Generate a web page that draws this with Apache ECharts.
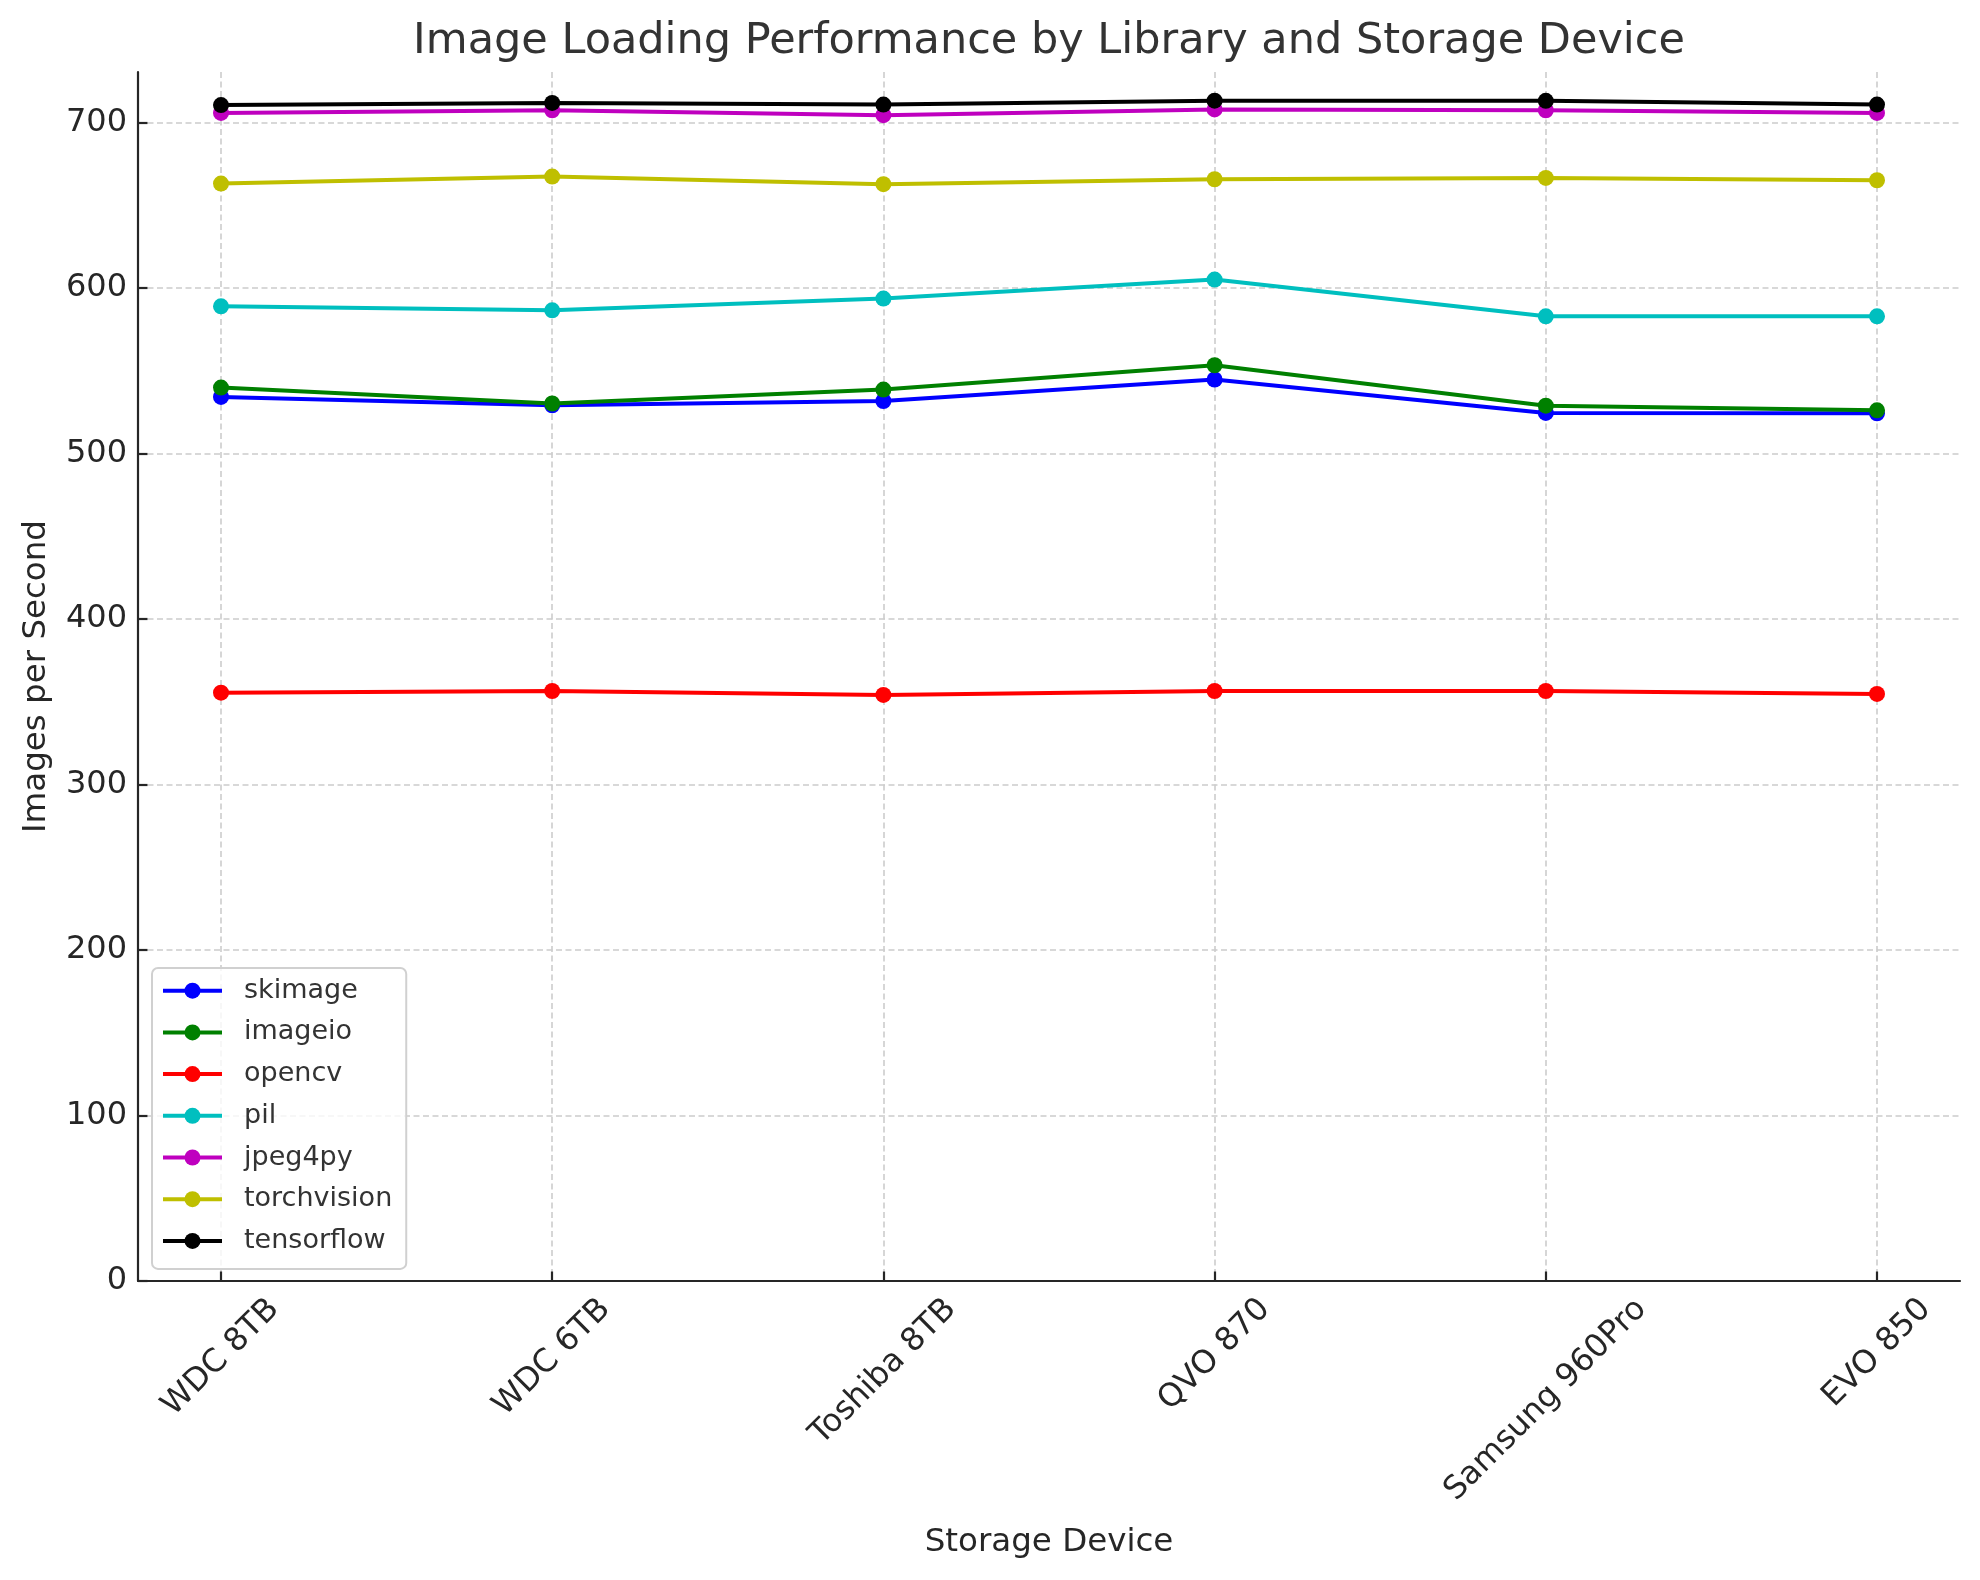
<!DOCTYPE html>
<html>
<head>
<meta charset="utf-8">
<script src="https://cdn.jsdelivr.net/npm/echarts/dist/echarts.min.js"></script>
<style>
  html, body { margin: 0; padding: 0; background: #ffffff; }
  #chart { width: 1980px; height: 1580px; }
</style>
</head>
<body>
<div id="chart"></div>
<script>
// ---------- data ----------
const categories = ['WDC 8TB', 'WDC 6TB', 'Toshiba 8TB', 'QVO 870', 'Samsung 960Pro', 'EVO 850'];
const seriesNames = ['skimage', 'imageio', 'opencv', 'pil', 'jpeg4py', 'torchvision', 'tensorflow'];
const skimage     = [534.2, 529.1, 531.7, 544.7, 524.5, 524.3];
const imageio     = [539.8, 530.2, 538.6, 553.3, 528.9, 526.1];
const opencv      = [355.5, 356.5, 354.1, 356.5, 356.5, 354.7];
const pil         = [588.9, 586.5, 593.6, 605.1, 582.9, 582.9];
const jpeg4py     = [705.8, 707.4, 704.4, 707.9, 707.4, 705.8];
const torchvision = [663.1, 667.3, 662.7, 665.7, 666.5, 665.1];
const tensorflow  = [710.5, 711.8, 710.8, 713.2, 713.1, 710.8];
const yTickValues = [0, 100, 200, 300, 400, 500, 600, 700];
const titleText = 'Image Loading Performance by Library and Storage Device';
const xAxisTitle = 'Storage Device';
const yAxisTitle = 'Images per Second';

// ---------- style ----------
const FONT = '"DejaVu Sans", "Liberation Sans", sans-serif';
const seriesColors = ['#0000ff', '#008000', '#ff0000', '#00bfbf', '#bf00bf', '#bfbf00', '#000000'];
const seriesValues = [skimage, imageio, opencv, pil, jpeg4py, torchvision, tensorflow];
const TEXT_DARK = '#262626';
const GRID_COLOR = '#cccccc';

const canvasW = 1980, canvasH = 1580;
const frame = { left: 138, right: 20, top: 72, bottom: 299 };
const dataBox = { left: 221, right: 103, top: 72, bottom: 299 };
const yMaxData = 730.5;
const yMaxTick = yTickValues[yTickValues.length - 1];
const plotH = canvasH - frame.top - frame.bottom;
const tickGridTop = frame.top + plotH * (yMaxData - yMaxTick) / yMaxData;

// measure label widths for matplotlib-like centred rotated labels
const LABEL_FS = 32;
const mctx = document.createElement('canvas').getContext('2d');
mctx.font = LABEL_FS + 'px ' + FONT;
const xAxisData = categories.map(function (c) {
  const w = mctx.measureText(c).width;
  const P = (w + LABEL_FS) / 2;
  return {
    value: c,
    textStyle: {
      align: 'center', verticalAlign: 'top', padding: [0, P, 0, 0],
      fontSize: LABEL_FS, lineHeight: P, fontFamily: FONT, color: TEXT_DARK
    }
  };
});

const chart = echarts.init(document.getElementById('chart'), null, { renderer: 'canvas' });

const series = seriesNames.map(function (name, i) {
  return {
    name: name,
    type: 'line',
    xAxisIndex: 1,
    yAxisIndex: 1,
    data: seriesValues[i],
    symbol: 'circle',
    symbolSize: 16,
    showSymbol: true,
    lineStyle: { width: 4, color: seriesColors[i] },
    itemStyle: { color: seriesColors[i] },
    emphasis: { disabled: true },
    animation: false,
    z: 2
  };
});

const option = {
  backgroundColor: '#ffffff',
  animation: false,
  grid: [
    Object.assign({ outerBoundsMode: 'none', containLabel: false }, frame),
    Object.assign({ outerBoundsMode: 'none', containLabel: false }, dataBox),
    { outerBoundsMode: 'none', containLabel: false, left: frame.left, right: frame.right, top: tickGridTop, bottom: frame.bottom }
  ],
  xAxis: [
    {
      gridIndex: 0, type: 'value', min: 0, max: 1, position: 'bottom',
      axisLine: { show: true, onZero: false, lineStyle: { color: TEXT_DARK, width: 2.2 } },
      axisTick: { show: false }, axisLabel: { show: false }, splitLine: { show: false }
    },
    {
      gridIndex: 1, type: 'category', boundaryGap: false, data: xAxisData, position: 'bottom',
      axisLine: { show: false, onZero: false },
      axisTick: { show: true, inside: true, length: 9.5, interval: 0, lineStyle: { color: TEXT_DARK, width: 2.2 } },
      axisLabel: {
        show: true, interval: 0, rotate: 45, margin: 12, align: 'center', verticalAlign: 'top',
        fontSize: LABEL_FS, fontFamily: FONT, color: TEXT_DARK, hideOverlap: false
      },
      splitLine: { show: true, interval: 0, lineStyle: { color: GRID_COLOR, width: 1.6, type: [6, 3.5] } }
    },
    { gridIndex: 2, type: 'value', min: 0, max: 1, show: false }
  ],
  yAxis: [
    {
      gridIndex: 0, type: 'value', min: 0, max: 1, position: 'left',
      axisLine: { show: true, onZero: false, lineStyle: { color: TEXT_DARK, width: 2.2 } },
      axisTick: { show: false }, axisLabel: { show: false }, splitLine: { show: false }
    },
    { gridIndex: 1, type: 'value', min: 0, max: yMaxData, show: false },
    {
      gridIndex: 2, type: 'value', min: yTickValues[0], max: yMaxTick, interval: 100, position: 'left',
      axisLine: { show: false },
      axisTick: { show: true, inside: true, length: 9.5, lineStyle: { color: TEXT_DARK, width: 2.2 } },
      axisLabel: { show: true, margin: 11, fontSize: LABEL_FS, fontFamily: FONT, color: TEXT_DARK },
      splitLine: { show: true, lineStyle: { color: GRID_COLOR, width: 1.6, type: [6, 3.5] } }
    }
  ],
  legend: {
    show: true,
    data: seriesNames,
    orient: 'vertical',
    left: 152,
    top: 968,
    itemWidth: 59,
    itemHeight: 20,
    itemGap: 11.7,
    padding: [7.7, 14, 13, 9],
    backgroundColor: 'rgba(255,255,255,0.8)',
    borderColor: '#d0d0d0',
    borderWidth: 2,
    borderRadius: 6,
    selectedMode: false,
    lineStyle: { width: 4 },
    textStyle: { fontSize: 27, fontFamily: FONT, color: '#333333', lineHeight: 30, padding: [0, 0, 0, 17] },
    z: 10
  },
  graphic: [
    {
      type: 'text', x: (frame.left + canvasW - frame.right) / 2, y: 42, silent: true,
      style: { text: titleText, font: '43px ' + FONT, fill: '#333333', textAlign: 'center', textVerticalAlign: 'middle' }
    },
    {
      type: 'text', x: (frame.left + canvasW - frame.right) / 2, y: 1543, silent: true,
      style: { text: xAxisTitle, font: '32.5px ' + FONT, fill: TEXT_DARK, textAlign: 'center', textVerticalAlign: 'middle' }
    },
    {
      type: 'text', x: 37, y: frame.top + plotH / 2, rotation: Math.PI / 2, silent: true,
      style: { text: yAxisTitle, font: '32.5px ' + FONT, fill: TEXT_DARK, textAlign: 'center', textVerticalAlign: 'middle' }
    }
  ],
  series: series
};

chart.setOption(option);
</script>
</body>
</html>
